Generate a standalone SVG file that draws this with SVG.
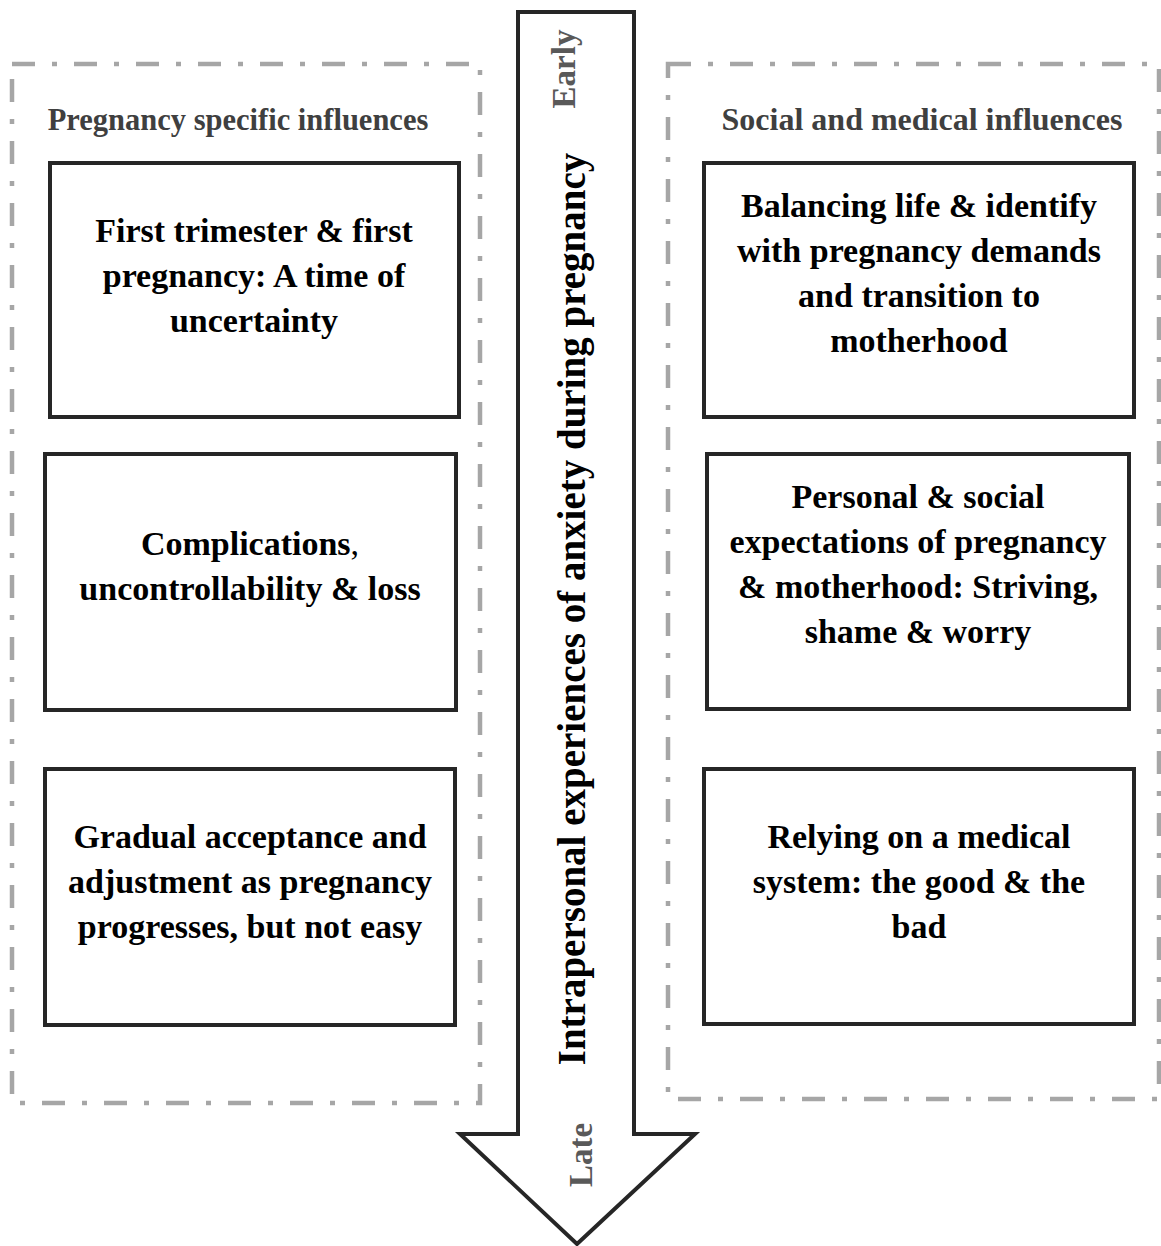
<svg xmlns="http://www.w3.org/2000/svg" width="1161" height="1246" viewBox="0 0 1161 1246">
<style>
  text { font-family: "Liberation Serif", "Times New Roman", serif; font-weight: bold; }
  .group { fill: none; stroke: #a6a6a6; stroke-width: 4.5; stroke-dasharray: 23 17 5 17; }
  .box { fill: #ffffff; stroke: #262626; stroke-width: 4; }
  .btxt { font-size: 34px; fill: #000000; text-anchor: middle; }
  .head { font-size: 30.5px; fill: #3f3f3f; text-anchor: middle; }
  .phase { font-size: 33px; fill: #595959; text-anchor: middle; }
  .axis { font-size: 39px; fill: #000000; text-anchor: middle; }
  .arrow { fill: #ffffff; stroke: #262626; stroke-width: 4; stroke-linejoin: miter; }
</style>
<rect width="1161" height="1246" fill="#ffffff"/>

<g id="group-left">
  <rect class="group" x="12" y="64" width="468" height="1039"/>
  <text class="head" x="238" y="130">Pregnancy specific influences</text>
</g>
<g id="group-right">
  <rect class="group" x="668" y="64" width="491" height="1035"/>
  <text class="head" x="922" y="130" style="font-size:32px">Social and medical influences</text>
</g>

<g id="connectors">
  <path id="timeline-arrow" class="arrow" d="M518,12 L634,12 L634,1134 L695,1134 L577,1244 L460,1134 L518,1134 Z"/>
  <text class="phase" transform="translate(575,69) rotate(-90)">Early</text>
  <text class="axis" transform="translate(585,609) rotate(-90)">Intrapersonal experiences of anxiety during pregnancy</text>
  <text class="phase" transform="translate(592,1155) rotate(-90)">Late</text>
</g>

<g id="node-first-trimester">
  <rect class="box" x="50" y="163" width="409" height="254"/>
  <text class="btxt" x="254" y="242">First trimester &amp; first</text>
  <text class="btxt" x="254" y="287">pregnancy: A time of</text>
  <text class="btxt" x="254" y="332">uncertainty</text>
</g>
<g id="node-complications">
  <rect class="box" x="45" y="454" width="411" height="256"/>
  <text class="btxt" x="250" y="555">Complications<tspan font-weight="normal">,</tspan></text>
  <text class="btxt" x="250" y="600">uncontrollability &amp; loss</text>
</g>
<g id="node-gradual-acceptance">
  <rect class="box" x="45" y="769" width="410" height="256"/>
  <text class="btxt" x="250" y="848">Gradual acceptance and</text>
  <text class="btxt" x="250" y="893">adjustment as pregnancy</text>
  <text class="btxt" x="250" y="938">progresses, but not easy</text>
</g>
<g id="node-balancing-life">
  <rect class="box" x="704" y="163" width="430" height="254"/>
  <text class="btxt" x="919" y="217">Balancing life &amp; identify</text>
  <text class="btxt" x="919" y="262">with pregnancy demands</text>
  <text class="btxt" x="919" y="307">and transition to</text>
  <text class="btxt" x="919" y="352">motherhood</text>
</g>
<g id="node-expectations">
  <rect class="box" x="707" y="454" width="422" height="255"/>
  <text class="btxt" x="918" y="508">Personal &amp; social</text>
  <text class="btxt" x="918" y="553">expectations of pregnancy</text>
  <text class="btxt" x="918" y="598">&amp; motherhood: Striving,</text>
  <text class="btxt" x="918" y="643">shame &amp; worry</text>
</g>
<g id="node-medical-system">
  <rect class="box" x="704" y="769" width="430" height="255"/>
  <text class="btxt" x="919" y="848">Relying on a medical</text>
  <text class="btxt" x="919" y="893">system: the good &amp; the</text>
  <text class="btxt" x="919" y="938">bad</text>
</g>
</svg>
